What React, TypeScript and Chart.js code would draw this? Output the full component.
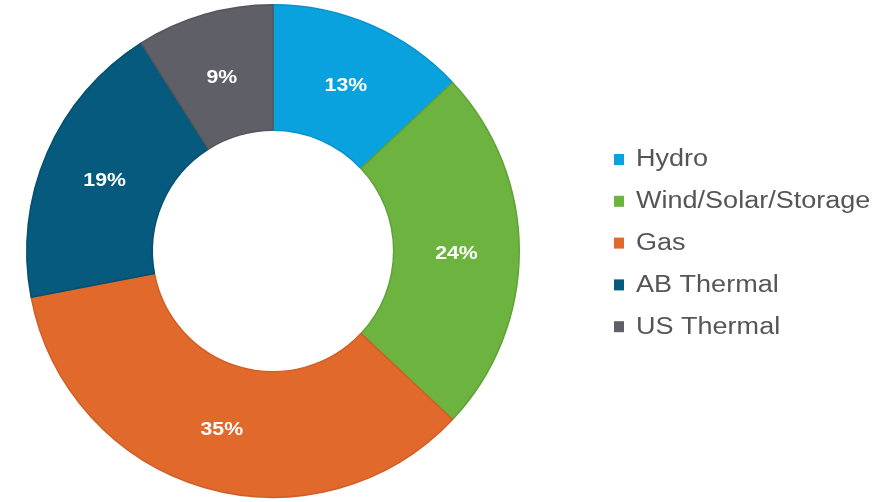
import React, { useEffect, useRef } from "react";
import { Chart, registerables } from "chart.js";

Chart.register(...registerables);

const categories = ["Hydro", "Wind/Solar/Storage", "Gas", "AB Thermal", "US Thermal"];
const shares = [13, 24, 35, 19, 9];
const colors = ["#0aa1df", "#6cb43f", "#e0692b", "#055a7d", "#5f5f67"];
const borders = ["#0a92cb", "#5fa236", "#cf5f25", "#044f6d", "#55555c"];

const labelPlugin = {
  id: "sliceLabels",
  afterDatasetsDraw(chart: any) {
    const ctx = chart.ctx;
    const meta = chart.getDatasetMeta(0);
    ctx.save();
    ctx.fillStyle = "#ffffff";
    ctx.font = "bold 19px 'Liberation Sans', Arial, sans-serif";
    ctx.textAlign = "center";
    ctx.textBaseline = "middle";
    meta.data.forEach((arc: any, i: number) => {
      const p = arc.tooltipPosition();
      ctx.save();
      ctx.translate(p.x, p.y + 3);
      ctx.scale(1.12, 1);
      ctx.fillText(shares[i] + "%", 0, 0);
      ctx.restore();
    });
    ctx.restore();
  },
};

const legendPlugin = {
  id: "sideLegend",
  afterDraw(chart: any) {
    const ctx = chart.ctx;
    ctx.save();
    ctx.font = "23px 'Liberation Sans', Arial, sans-serif";
    ctx.textBaseline = "middle";
    ctx.textAlign = "left";
    const x0 = 614;
    const y0 = 159;
    const step = 41.8;
    categories.forEach((name, i) => {
      const y = y0 + i * step;
      ctx.fillStyle = colors[i];
      ctx.fillRect(x0, y - 5, 10, 11);
      ctx.fillStyle = "#555555";
      ctx.save();
      ctx.translate(x0 + 22, y + 1);
      ctx.scale(1.175, 1);
      ctx.fillText(name, 0, 0);
      ctx.restore();
    });
    ctx.restore();
  },
};

export default function App() {
  const ref = useRef<HTMLCanvasElement | null>(null);
  useEffect(() => {
    if (!ref.current) return;
    const chart = new Chart(ref.current, {
      type: "doughnut",
      data: {
        labels: categories,
        datasets: [
          {
            data: shares,
            backgroundColor: colors,
            borderColor: borders,
            borderWidth: 1.5,
          },
        ],
      },
      options: {
        animation: false,
        responsive: false,
        maintainAspectRatio: false,
        cutout: "49%",
        layout: { padding: { left: 26, right: 364, top: 4, bottom: 4 } },
        plugins: {
          legend: { display: false },
          tooltip: { enabled: false },
        },
      },
      plugins: [labelPlugin, legendPlugin],
    });
    return () => chart.destroy();
  }, []);
  return (
    <div style={{ position: "fixed", left: 0, top: 0, width: 884, height: 502, background: "#fff" }}>
      <canvas ref={ref} width={884} height={502} style={{ width: 884, height: 502 }} />
    </div>
  );
}
